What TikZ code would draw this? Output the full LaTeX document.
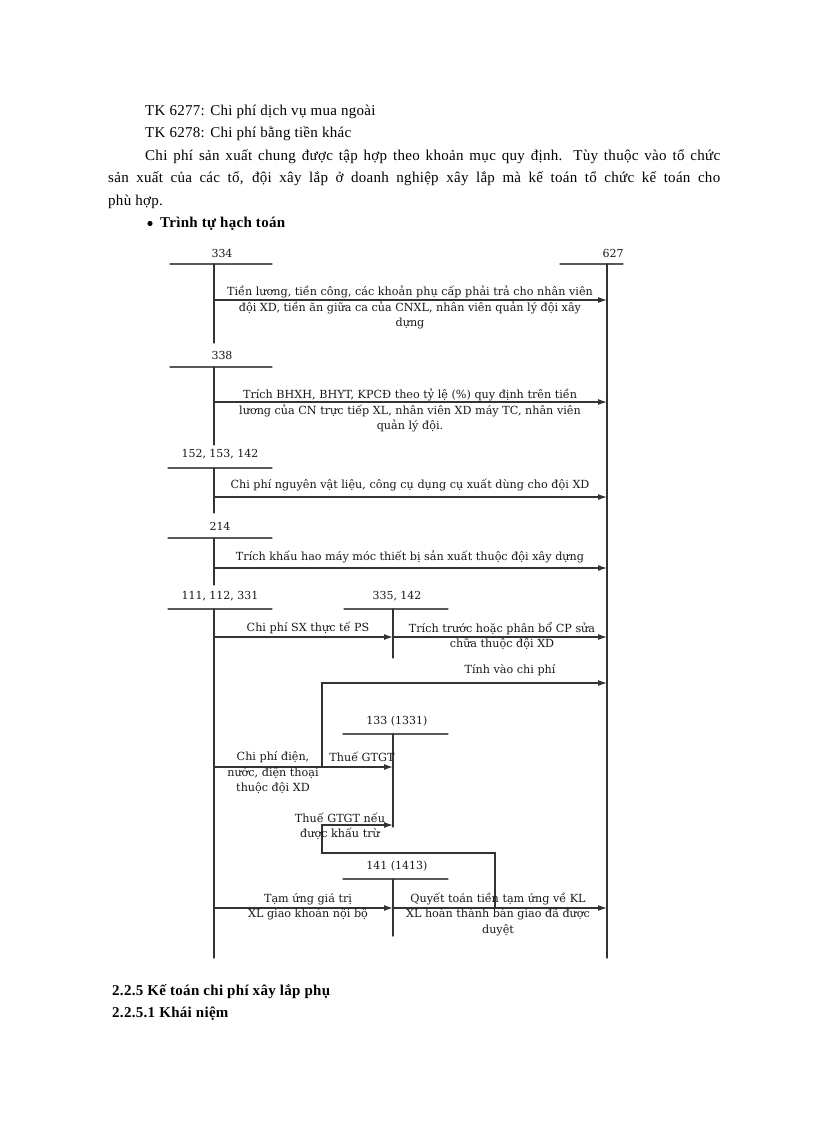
\documentclass[tikz,border=0pt]{standalone}
\usepackage{fontspec}
\setmainfont[LetterSpace=2]{Liberation Serif}
\newfontfamily\diagfont{DejaVu Serif}
\usetikzlibrary{arrows.meta}

\begin{document}
\begin{tikzpicture}
		[x=1pt,y=-1pt,line cap=round,
		%Styles
		body text/.style={anchor=base west,inner sep=0pt,font=\fontsize{15}{20}\selectfont},
		head text/.style={body text,font=\fontsize{15}{20}\selectfont\bfseries},
		acct/.style={inner sep=0pt,font=\diagfont\fontsize{11}{15}\selectfont,text=black!90},
		flow text/.style={align=center,inner sep=0pt,font=\diagfont\fontsize{11.2}{15.5}\selectfont,text=black!90},
		tbar/.style={line width=1.3pt,black!65},
		tline/.style={line width=1.3pt,black!80},
		flow/.style={line width=1.2pt,black!80,-{Latex[length=9pt,width=6pt]}}
		]
		\useasboundingbox[fill=white] (0,0) rectangle (816,1123);
		
		%Text above
		\node[body text] (tk6277) at (145,116) {TK 6277: Chi phí dịch vụ mua ngoài};
		\node[body text] (tk6278) at (145,138) {TK 6278: Chi phí bằng tiền khác};
		\node[body text] (para1) at (145,161) {\makebox[575pt][s]{Chi phí sản xuất chung được tập hợp theo khoản mục quy định. Tùy thuộc vào tổ chức}};
		\node[body text] (para2) at (108,183) {\makebox[612pt][s]{sản xuất của các tổ, đội xây lắp ở doanh nghiệp xây lắp mà kế toán tổ chức kế toán cho}};
		\node[body text] (para3) at (108,206) {phù hợp.};
		\fill (150,223.5) circle (2.6pt);
		\node[head text] (trinhtu) at (160,228) {Trình tự hạch toán};
		
		%Accounts
		\coordinate (t334) at (214,264);
		\coordinate (t627) at (607,264);
		\coordinate (t338) at (214,367);
		\coordinate (t152) at (214,468);
		\coordinate (t214) at (214,538);
		\coordinate (t111) at (214,609);
		\coordinate (t335) at (393,609);
		\coordinate (t133) at (393,734);
		\coordinate (t141) at (393,879);
		
		\node[acct] (a334) at (222,253) {334};
		\node[acct] (a627) at (613,253) {627};
		\node[acct] (a338) at (222,355) {338};
		\node[acct] (a152) at (220,454) {152, 153, 142};
		\node[acct] (a214) at (220,526) {214};
		\node[acct] (a111) at (220,596) {111, 112, 331};
		\node[acct] (a335) at (397,596) {335, 142};
		\node[acct] (a133) at (397,721) {133 (1331)};
		\node[acct] (a141) at (397,866) {141 (1413)};
		
		\draw[tbar] (170,264) -- (272,264);
		\draw[tbar] (560,264) -- (623,264);
		\draw[tbar] (170,367) -- (272,367);
		\draw[tbar] (168,468) -- (272,468);
		\draw[tbar] (168,538) -- (272,538);
		\draw[tbar] (168,609) -- (272,609);
		\draw[tbar] (344,609) -- (448,609);
		\draw[tbar] (343,734) -- (448,734);
		\draw[tbar] (343,879) -- (448,879);
		
		\draw[tline] (t334) -- (t334 |- 0,343);
		\draw[tline] (t627) -- (t627 |- 0,958);
		\draw[tline] (t338) -- (t338 |- 0,445);
		\draw[tline] (t152) -- (t152 |- 0,513);
		\draw[tline] (t214) -- (t214 |- 0,585);
		\draw[tline] (t111) -- (t111 |- 0,958);
		\draw[tline] (t335) -- (t335 |- 0,658);
		\draw[tline] (t133) -- (t133 |- 0,827);
		\draw[tline] (t141) -- (t141 |- 0,936);
		
		%Flows
		\draw[flow] (t334 |- 0,300) -- (t627 |- 0,300);
		\node[flow text] (f334) at (410,307.5) {Tiền lương, tiền công, các khoản phụ cấp phải trả cho nhân viên\\đội XD, tiền ăn giữa ca của CNXL, nhân viên quản lý đội xây\\dựng};
		
		\draw[flow] (t338 |- 0,402) -- (t627 |- 0,402);
		\node[flow text] (f338) at (410,410.5) {Trích BHXH, BHYT, KPCĐ theo tỷ lệ (\%) quy định trên tiền\\lương của CN trực tiếp XL, nhân viên XD máy TC, nhân viên\\quản lý đội.};
		
		\draw[flow] (t152 |- 0,497) -- (t627 |- 0,497);
		\node[flow text] (f152) at (410,485) {Chi phí nguyên vật liệu, công cụ dụng cụ xuất dùng cho đội XD};
		
		\draw[flow] (t214 |- 0,568) -- (t627 |- 0,568);
		\node[flow text] (f214) at (410,557) {Trích khấu hao máy móc thiết bị sản xuất thuộc đội xây dựng};
		
		\draw[flow] (t111 |- 0,637) -- (t335 |- 0,637);
		\node[flow text] (f111) at (308,628) {Chi phí SX thực tế PS};
		\draw[flow] (t335 |- 0,637) -- (t627 |- 0,637);
		\node[flow text] (f335) at (502,636) {Trích trước hoặc phân bổ CP sửa\\chữa thuộc đội XD};
		
		\coordinate (kink) at (322,767);
		\draw[flow] (kink) -- (kink |- 0,683) -- (t627 |- 0,683);
		\node[flow text] (ftinh) at (510,670) {Tính vào chi phí};
		
		\draw[flow] (t111 |- kink) -- (t133 |- kink);
		\node[flow text] (fdien) at (273,773) {Chi phí điện,\\nước, điện thoại\\thuộc đội XD};
		\node[flow text] (fgtgt) at (362,757) {Thuế GTGT};
		
		\coordinate (back) at (495,908);
		\draw[flow] (back) -- (back |- 0,853) -- (kink |- 0,853) -- (kink |- 0,825) -- (t133 |- 0,825);
		\node[flow text] (fkhau) at (340,826.5) {Thuế GTGT nếu\\được khấu trừ};
		
		\draw[flow] (t111 |- back) -- (t141 |- back);
		\node[flow text] (ftam) at (308,907) {Tạm ứng giá trị\\XL giao khoán nội bộ};
		\draw[flow] (t141 |- back) -- (t627 |- back);
		\node[flow text] (fquyet) at (498,914) {Quyết toán tiền tạm ứng về KL\\XL hoàn thành bàn giao đã được\\duyệt};
		
		%Text below
		\node[head text] (h225) at (112,995) {2.2.5 Kế toán chi phí xây lắp phụ};
		\node[head text] (h2251) at (112,1017) {2.2.5.1 Khái niệm};
	\end{tikzpicture}
\end{document}
